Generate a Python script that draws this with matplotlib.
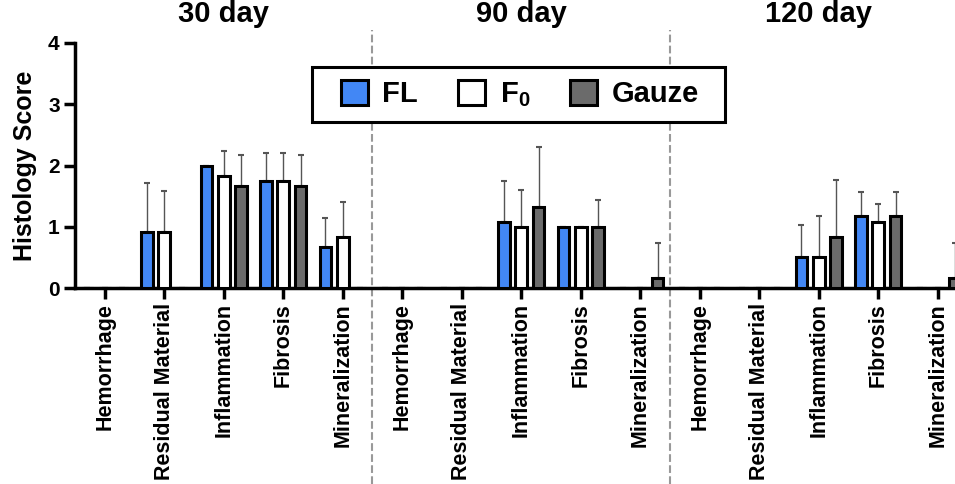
import matplotlib.pyplot as plt
from matplotlib.patches import Rectangle
import numpy as np

plt.rcParams["font.family"] = ["Liberation Sans", "DejaVu Sans"]
plt.rcParams["mathtext.fontset"] = "custom"
plt.rcParams["mathtext.bf"] = "Liberation Sans:bold"
plt.rcParams["mathtext.rm"] = "Liberation Sans"

categories = ["Hemorrhage", "Residual Material", "Inflammation", "Fibrosis", "Mineralization"]
timepoints = ["30 day", "90 day", "120 day"]

# mean scores, one entry per category within each time point (30, 90, 120 day)
fl_mean = [0, 0.92, 2.0, 1.75, 0.67,
           0, 0, 1.08, 1.0, 0,
           0, 0, 0.5, 1.17, 0]
fl_err = [0, 0.8, 0, 0.45, 0.48,
          0, 0, 0.67, 0, 0,
          0, 0, 0.53, 0.39, 0]
f0_mean = [0, 0.92, 1.83, 1.75, 0.83,
           0, 0, 1.0, 1.0, 0,
           0, 0, 0.5, 1.08, 0]
f0_err = [0, 0.67, 0.4, 0.45, 0.58,
          0, 0, 0.6, 0, 0,
          0, 0, 0.67, 0.29, 0]
gauze_mean = [0, 0, 1.67, 1.67, 0,
              0, 0, 1.33, 1.0, 0.17,
              0, 0, 0.83, 1.17, 0.17]
gauze_err = [0, 0, 0.5, 0.5, 0,
             0, 0, 0.98, 0.43, 0.56,
             0, 0, 0.93, 0.39, 0.56]

fig = plt.figure(figsize=(9.55, 4.84), dpi=100)
ax = fig.add_axes([75 / 955, 196 / 484, 880 / 955, 245 / 484])

x = np.arange(len(categories) * len(timepoints))
w = 0.2
off = 0.29
series = [(fl_mean, fl_err, "#4287f5", "FL"),
          (f0_mean, f0_err, "white", r"F$_\mathbf{0}$"),
          (gauze_mean, gauze_err, "#6b6b6b", "Gauze")]
for k, (m, e, c, lab) in enumerate(series):
    xs = x + (k - 1) * off
    ax.bar(xs, m, width=w, color=c, edgecolor="black", linewidth=2.2, label=lab, zorder=3)
    ax.errorbar(xs, m, yerr=[np.zeros(len(m)), e], fmt="none", ecolor="#555555",
                elinewidth=1, capsize=2.5, capthick=1.5, zorder=2)

ax.set_xlim(-0.5, 14.29)
ax.set_ylim(0, 4)
ax.set_yticks([0, 1, 2, 3, 4])
ax.set_xticks(x)
ax.set_xticklabels(categories * len(timepoints), rotation=90, fontsize=15.5, fontweight="bold")
for t in ax.get_yticklabels():
    t.set_fontweight("bold")
    t.set_fontsize(15)
ax.tick_params(axis="both", width=2.5, length=8, direction="out", pad=3)
ax.spines["top"].set_visible(False)
ax.spines["right"].set_visible(False)
ax.spines["left"].set_linewidth(2.5)
ax.spines["bottom"].set_linewidth(2.5)
ax.set_ylabel("Histology Score", fontsize=18, fontweight="bold", labelpad=8)

for b in [4.5, 9.5]:
    ax.plot([b, b], [-0.8, 1.053], transform=ax.get_xaxis_transform(), color="#999999",
            linestyle="--", linewidth=1.5, clip_on=False)

for i, tp in enumerate(timepoints):
    ax.text(i * 5 + 2, 1.06, tp, transform=ax.get_xaxis_transform(), ha="center",
            va="bottom", fontsize=21, fontweight="bold")

# legend box drawn separately so its padding matches the original
ax.add_patch(Rectangle((0.2693, 0.678), 0.4693, 0.224, transform=ax.transAxes,
                       facecolor="white", edgecolor="black", linewidth=2.2, zorder=5))
leg = ax.legend(loc="center", bbox_to_anchor=(0.5057, 0.79), ncol=3, frameon=False,
                handlelength=0.93, handleheight=0.93, columnspacing=1.37,
                handletextpad=0.5, borderpad=0.3,
                prop={"weight": "bold", "size": 21})
leg.set_zorder(6)

fig.savefig("out.png", dpi=100)
